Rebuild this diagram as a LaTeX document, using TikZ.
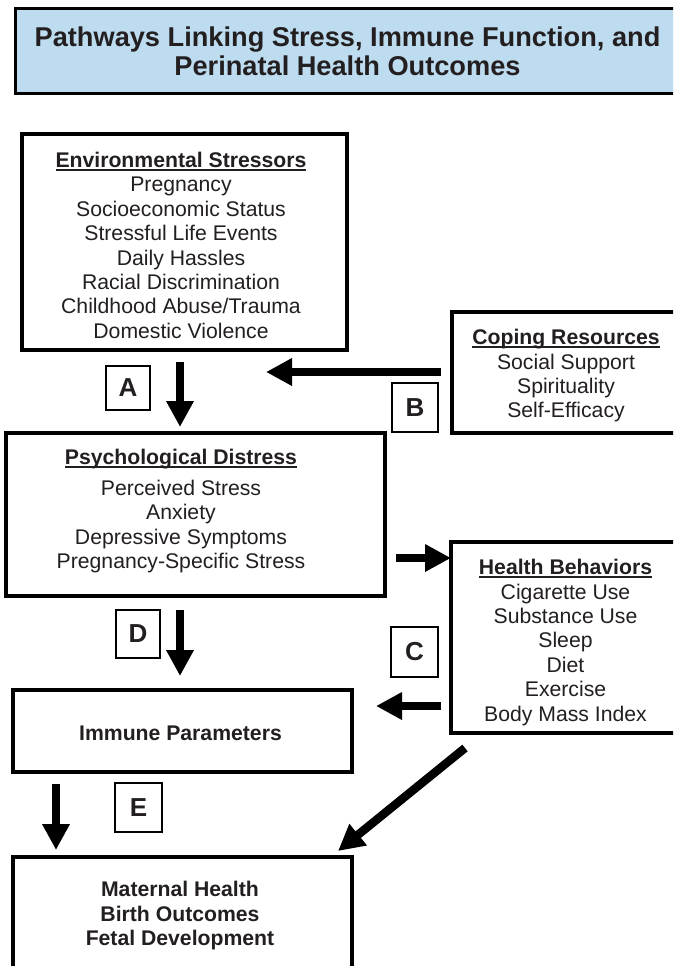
\documentclass[tikz,border=0pt]{standalone}
\usepackage{fontspec}
\setmainfont{Liberation Sans}
\usetikzlibrary{arrows.meta}
\definecolor{titleblue}{HTML}{BEDCF0}
\definecolor{ink}{HTML}{231F20}
\newcommand{\ulhead}[1]{\setbox0\hbox{\bfseries #1}\rlap{\color{ink}\rule[-3.2pt]{\wd0}{1.8pt}}\box0}
\newcommand{\bodyfont}{\fontsize{21.2}{24.4}\selectfont}
\tikzset{
  box/.style={draw=black, line width=3.4pt, fill=white, inner sep=0pt},
  titlebox/.style={draw=black, line width=3pt, fill=titleblue, inner sep=0pt},
  txt/.style={text=ink, align=center, inner sep=0pt, font=\bodyfont},
  letterbox/.style={draw=black, line width=1.8pt, fill=white, text=ink, inner sep=0pt,
    font=\fontsize{26}{28}\selectfont\bfseries},
  bigarrow/.style={draw=black, line width=8.5pt,
    -{Triangle[length=26pt,width=26pt]}, shorten <=0pt}
}
\begin{document}
\begin{tikzpicture}[x=1pt,y=-1pt]
\useasboundingbox (0,0) rectangle (673,966);
\clip (0,0) rectangle (673,966);
\fill[white] (0,0) rectangle (673,966);

% title
\draw[titlebox] (15,9) rectangle (700,93);
\node (title) at (347.5,55.3) [text=ink, align=center, inner sep=0pt,
  font=\fontsize{27.2}{29.5}\selectfont\bfseries]
  {\strut Pathways Linking Stress, Immune Function, and\\\strut Perinatal Health Outcomes};

% boxes
\node (env)    [box, minimum width=325pt, minimum height=216pt] at (184.5,242) {};
\node (cope)   [box, minimum width=260pt, minimum height=121pt] at (582,372.5) {};
\node (psych)  [box, minimum width=379pt, minimum height=163pt] at (195.5,514.5) {};
\node (health) [box, minimum width=260pt, minimum height=191pt] at (581,637.5) {};
\node (immune) [box, minimum width=339pt, minimum height=82pt] at (182.5,731) {};
\node (outc)   [box, minimum width=339pt, minimum height=160pt] at (182.5,937) {};

% texts
\node (envt) [txt] at (181,248) {\strut\ulhead{Environmental Stressors}\\\strut Pregnancy\\\strut Socioeconomic Status\\\strut Stressful Life Events\\\strut Daily Hassles\\\strut Racial Discrimination\\\strut Childhood Abuse/Trauma\\\strut Domestic Violence};
\node (copet) [txt] at (566,376.5) {\strut\ulhead{Coping Resources}\\\strut Social Support\\\strut Spirituality\\\strut Self-Efficacy};
\node (psycht) [txt] at (181,511.5) {\strut\ulhead{Psychological Distress}\\[6.5pt]\strut Perceived Stress\\\strut Anxiety\\\strut Depressive Symptoms\\\strut Pregnancy-Specific Stress};
\node (healtht) [txt] at (565.5,643) {\strut\ulhead{Health Behaviors}\\\strut Cigarette Use\\\strut Substance Use\\\strut Sleep\\\strut Diet\\\strut Exercise\\\strut Body Mass Index};
\node (immunet) [txt, font=\bodyfont\bfseries] at (180.5,736) {\strut Immune Parameters};
\node (outct) [txt, font=\bodyfont\bfseries] at (180,916.5) {\strut Maternal Health\\\strut Birth Outcomes\\\strut Fetal Development};

% letter boxes
\node (lA) [letterbox, minimum width=44pt, minimum height=44pt] at (128,388) {A};
\node (lB) [letterbox, minimum width=46pt, minimum height=49pt] at (415,407.5) {B};
\node (lC) [letterbox, minimum width=47pt, minimum height=50pt] at (414.5,652) {C};
\node (lD) [letterbox, minimum width=44pt, minimum height=48pt] at (138,634) {D};
\node (lE) [letterbox, minimum width=47pt, minimum height=49pt] at (138.5,807.5) {E};

% arrow end points
\coordinate (a1) at (180,362);
\coordinate (a2) at (180,427);
\coordinate (b1) at (441,372);
\coordinate (b2) at (266,372);
\coordinate (h1) at (396,558);
\coordinate (h2) at (451,558);
\coordinate (d1) at (180,610);
\coordinate (d2) at (180,676);
\coordinate (c1) at (441,706);
\coordinate (c2) at (376,706);
\coordinate (e1) at (56,784);
\coordinate (e2) at (56,850);
\coordinate (g1) at (465,748);
\coordinate (g2) at (338,851);

\draw[bigarrow] (a1) -- (a2);
\draw[bigarrow] (b1) -- (b2);
\draw[bigarrow] (h1) -- (h2);
\draw[bigarrow] (d1) -- (d2);
\draw[bigarrow] (c1) -- (c2);
\draw[bigarrow] (e1) -- (e2);
\draw[bigarrow] (g1) -- (g2);
\end{tikzpicture}
\end{document}
